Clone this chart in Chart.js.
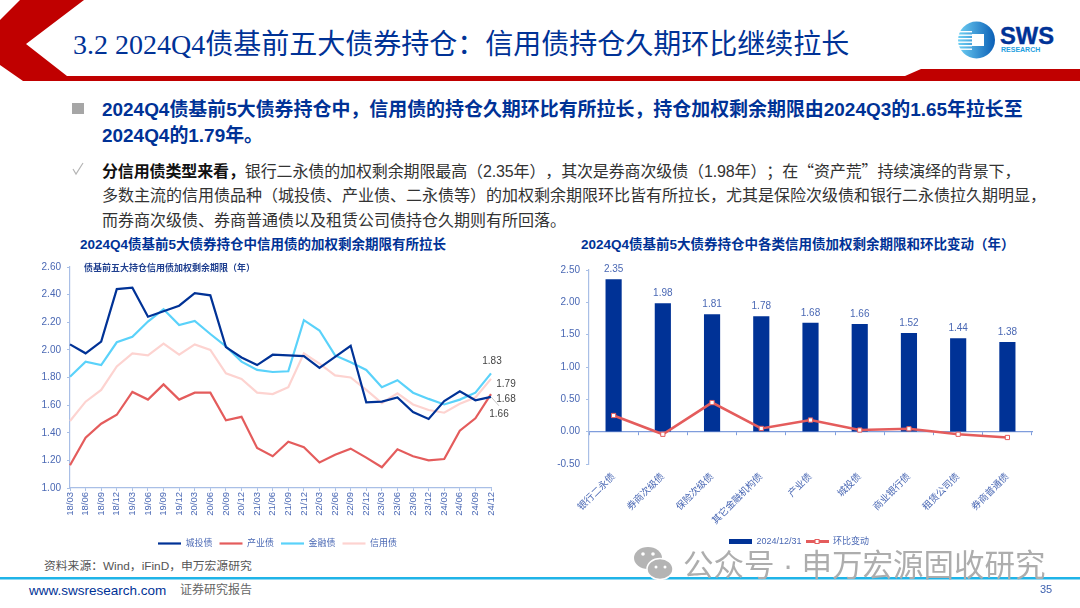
<!DOCTYPE html>
<html lang="zh-CN">
<head>
<meta charset="utf-8">
<title>3.2 2024Q4债基前五大债券持仓</title>
<script src="https://cdn.jsdelivr.net/npm/chart.js@4"></script>
<style>
  html, body { margin: 0; padding: 0; background: #fff; }
  #page {
    position: relative; width: 1080px; height: 608px; overflow: hidden;
    font-family: "Liberation Sans", "Noto Sans CJK SC", sans-serif;
    text-spacing-trim: space-all;
  }
  #page > * { position: absolute; }
  .txt { white-space: nowrap; line-height: 1; }
  .cjk { font-family: "Noto Sans CJK SC", sans-serif; }
  #headline { left: 73px; top: 31px; font-size: 28px; color: #003296; font-family: "Liberation Serif", "Noto Sans CJK SC", serif; }
  .lead { left: 102px; font-size: 18.95px; font-weight: 700; color: #003296; }
  .body { left: 102px; font-size: 16px; color: #333; }
  .body b { color: #111; }
  .chart-title { top: 238px; font-size: 13.5px; font-weight: 700; color: #003296; }
  #left-note { left: 84px; top: 264px; font-size: 9px; font-weight: 700; color: #1f3f8f; }
  #source { left: 44px; top: 561px; font-size: 11.8px; color: #555; }
  #site { left: 29px; top: 584px; font-size: 13.5px; color: #003296; }
  #report { left: 180px; top: 584px; font-size: 12px; color: #666; }
  #pageno { left: 1040px; top: 584px; font-size: 11px; color: #3f62b0; }
  #mark { left: 683px; top: 550px; font-size: 30.5px; color: #adadad; }
  canvas { position: absolute; }
</style>
</head>
<body>
<div id="page">
  <!-- Header band, logo and wechat mark -->
  <svg width="1080" height="608" style="left:0;top:0">
    <defs>
      <linearGradient id="logoFill" x1="0" x2="1" y1="0" y2="0">
        <stop offset="0" stop-color="#6fd0f4"/>
        <stop offset="1" stop-color="#0a5fb6"/>
      </linearGradient>
    </defs>
    <polygon fill="#c00000" points="20,0 84,0 26,44 67,76 905,76 921,69 1080,69 1080,81 23,81 0,65 0,20"/>
    <rect x="0" y="577" width="1080" height="2.5" fill="#1fb4e8"/>
    <rect x="72" y="103" width="12" height="11" fill="#a6a6a6"/>
    <path d="M73 169 L76 174 L83 163" fill="none" stroke="#b5b5b5" stroke-width="1.2"/>
    <ellipse cx="976.5" cy="40" rx="18.5" ry="18.5" fill="url(#logoFill)"/>
    <g fill="#ffffff">
      <rect x="958" y="31" width="14" height="1.4"/>
      <rect x="957" y="34.5" width="15" height="1.4"/>
      <rect x="957" y="38" width="15" height="1.4"/>
      <rect x="957" y="41.5" width="15" height="1.4"/>
      <rect x="957" y="45" width="15" height="1.4"/>
      <rect x="958" y="48.5" width="14" height="1.4"/>
      <rect x="972" y="34" width="12" height="12"/>
    </g>
    <ellipse cx="648" cy="558" rx="14" ry="11" fill="#b4b4b4"/>
    <ellipse cx="660" cy="569" rx="13" ry="10.5" fill="#b4b4b4" stroke="#fff" stroke-width="1.5"/>
    <circle cx="643" cy="554" r="1.8" fill="#fff"/>
    <circle cx="653" cy="554" r="1.8" fill="#fff"/>
    <circle cx="656" cy="567" r="1.5" fill="#fff"/>
    <circle cx="665" cy="567" r="1.5" fill="#fff"/>
  </svg>
  <div class="txt" style="left:1000px;top:24.5px;font-size:23.7px;font-weight:700;color:#003296;-webkit-text-stroke:.4px #003296">SWS</div>
  <div class="txt" style="left:1001px;top:46px;font-size:7px;font-weight:700;color:#1e9fe0">RESEARCH</div>

  <div id="headline" class="txt">3.2 2024Q4债基前五大债券持仓：信用债持仓久期环比继续拉长</div>

  <div class="txt lead" style="top:101px">2024Q4债基前5大债券持仓中，信用债的持仓久期环比有所拉长，持仓加权剩余期限由2024Q3的1.65年拉长至</div>
  <div class="txt lead" style="top:127px">2024Q4的1.79年。</div>
  <div class="txt body" style="top:162px;letter-spacing:-.13px"><b>分信用债类型来看，</b>银行二永债的加权剩余期限最高（2.35年），其次是券商次级债（1.98年）；在<span class="cjk">“</span>资产荒<span class="cjk">”</span>持续演绎的背景下，</div>
  <div class="txt body" style="top:188px">多数主流的信用债品种（城投债、产业债、二永债等）的加权剩余期限环比皆有所拉长，尤其是保险次级债和银行二永债拉久期明显，</div>
  <div class="txt body" style="top:213px">而券商次级债、券商普通债以及租赁公司债持仓久期则有所回落。</div>

  <div class="txt chart-title" style="left:80px">2024Q4债基前5大债券持仓中信用债的加权剩余期限有所拉长</div>
  <div class="txt chart-title" style="left:581px">2024Q4债基前5大债券持仓中各类信用债加权剩余期限和环比变动（年）</div>

  <canvas id="durationChart" style="left:30px;top:255px" width="496" height="303"></canvas>
  <canvas id="changeChart" style="left:550px;top:255px" width="500" height="301"></canvas>

  <div id="left-note" class="txt">债基前五大持仓信用债加权剩余期限（年）</div>

  <div id="mark" class="txt">公众号 · 申万宏源固收研究</div>
  <div id="source" class="txt">资料来源：Wind，iFinD，申万宏源研究</div>
  <div id="site" class="txt">www.swsresearch.com</div>
  <div id="report" class="txt">证券研究报告</div>
  <div id="pageno" class="txt">35</div>
</div>

<script>
// ======================================
// Data
// ======================================

const quarters = [
  "18/03", "18/06", "18/09", "18/12", "19/03", "19/06", "19/09",
  "19/12", "20/03", "20/06", "20/09", "20/12", "21/03", "21/06",
  "21/09", "21/12", "22/03", "22/06", "22/09", "22/12", "23/03",
  "23/06", "23/09", "23/12", "24/03", "24/06", "24/09", "24/12"
];

const chengtou = [
  2.04, 1.975, 2.06, 2.44, 2.45, 2.24, 2.28,
  2.32, 2.41, 2.395, 2.02, 1.945, 1.89, 1.965,
  1.96, 1.955, 1.87, 1.95, 2.03, 1.62, 1.625,
  1.655, 1.55, 1.5, 1.63, 1.7, 1.635, 1.66
];

const chanye = [
  1.165, 1.365, 1.465, 1.53, 1.695, 1.64, 1.75,
  1.64, 1.69, 1.69, 1.49, 1.515, 1.29, 1.23,
  1.335, 1.295, 1.185, 1.24, 1.285, 1.22, 1.15,
  1.28, 1.23, 1.2, 1.21, 1.415, 1.505, 1.68
];

const jinrong = [
  1.805, 1.915, 1.89, 2.055, 2.095, 2.205, 2.295,
  2.18, 2.21, 2.115, 2.025, 1.915, 1.855, 1.84,
  1.845, 2.215, 2.14, 1.96, 1.91, 1.855, 1.73,
  1.78, 1.69, 1.645, 1.605, 1.64, 1.69, 1.83
];

const xinyong = [
  1.485, 1.625, 1.71, 1.88, 1.975, 1.96, 2.045,
  1.965, 2.04, 2.0, 1.83, 1.79, 1.69, 1.68,
  1.73, 1.975, 1.9, 1.815, 1.8, 1.71, 1.615,
  1.685, 1.605, 1.565, 1.545, 1.61, 1.655, 1.79
];

const bondTypes = [
  "银行二永债", "券商次级债", "保险次级债", "其它金融机构债", "产业债",
  "城投债", "商业银行债", "租赁公司债", "券商普通债"
];

const remainingTerm = [2.35, 1.98, 1.81, 1.78, 1.68, 1.66, 1.52, 1.44, 1.38];
const termChange = [0.25, -0.04, 0.45, 0.05, 0.18, 0.025, 0.045, -0.04, -0.09];


// ======================================
// Shared styles
// ======================================

const tickBlue = "#4a68b4";
const axisBlue = "#a9bfe6";
const fontFamily = '"Liberation Sans", "Noto Sans CJK SC", sans-serif';
const navy = "#003296";
const red = "#e45c5c";

// label offsets from the last point of each line, in dataset order
const endLabelOffsets = [[8, 17], [15, 5], [1, -12], [15, 5]];

function lineDataset(label, data, color) {
  return {
    label: label,
    data: data,
    borderColor: color,
    backgroundColor: color,
    borderWidth: 2.2,
    pointRadius: 0,
    tension: 0
  };
}

// small legend sample for the second chart
function legendKey(color, height, withMarker) {
  const key = document.createElement("canvas");
  key.width = 23;
  key.height = 9;
  const ctx = key.getContext("2d");
  ctx.fillStyle = color;
  ctx.fillRect(0, (9 - height) / 2, 23, height);
  if (withMarker) {
    ctx.fillStyle = "#ffffff";
    ctx.strokeStyle = color;
    ctx.fillRect(9, 2, 5, 5);
    ctx.strokeRect(9.5, 2.5, 4, 4);
  }
  return key;
}


// ======================================
// Small inline plugins
// ======================================

const endLabels = {
  id: "endLabels",
  afterDatasetsDraw(chart) {
    const ctx = chart.ctx;
    ctx.save();
    ctx.font = "10px " + fontFamily;
    ctx.fillStyle = "#444444";
    ctx.textAlign = "center";
    ctx.textBaseline = "middle";
    chart.data.datasets.forEach((dataset, i) => {
      const point = chart.getDatasetMeta(i).data[dataset.data.length - 1];
      const offset = endLabelOffsets[i];
      ctx.fillText(dataset.data[dataset.data.length - 1].toFixed(2), point.x + offset[0], point.y + offset[1]);
      if (i === 0) {
        // leader line of the 城投债 label
        ctx.strokeStyle = "#b8b8b8";
        ctx.lineWidth = 0.8;
        ctx.beginPath();
        ctx.moveTo(point.x, point.y);
        ctx.lineTo(point.x + 8, point.y + 9);
        ctx.stroke();
      }
    });
    ctx.restore();
  }
};

const barLabels = {
  id: "barLabels",
  afterDatasetsDraw(chart) {
    const ctx = chart.ctx;
    ctx.save();
    ctx.font = "10px " + fontFamily;
    ctx.fillStyle = tickBlue;
    ctx.textAlign = "center";
    ctx.textBaseline = "middle";
    chart.getDatasetMeta(0).data.forEach((bar, i) => {
      ctx.fillText(remainingTerm[i].toFixed(2), bar.x, bar.y - 10);
    });
    ctx.restore();
  }
};

// the layout centres the legend inside the padding, the reference has it further right
function legendShift(px) {
  return {
    id: "legendShift",
    afterLayout(chart) {
      chart.legend.left += px;
      chart.legend.right += px;
    }
  };
}


// ======================================
// Left chart: line chart
// ======================================

new Chart(document.getElementById("durationChart"), {
  type: "line",
  data: {
    labels: quarters,
    datasets: [
      lineDataset("城投债", chengtou, navy),
      lineDataset("产业债", chanye, red),
      lineDataset("金融债", jinrong, "#5ad2fa"),
      lineDataset("信用债", xinyong, "#fdd3d0")
    ]
  },
  plugins: [endLabels, legendShift(17)],
  options: {
    responsive: false,
    animation: false,
    layout: { padding: { top: 9.5, right: 35 } },
    plugins: {
      tooltip: { enabled: false },
      legend: {
        position: "bottom",
        labels: {
          usePointStyle: true,
          pointStyle: "line",
          pointStyleWidth: 23,
          boxHeight: 9,
          padding: 7,
          color: tickBlue,
          font: { size: 9, family: fontFamily }
        }
      }
    },
    scales: {
      x: {
        offset: false,
        border: { color: axisBlue, width: 1.2 },
        grid: { drawOnChartArea: false, color: axisBlue, tickLength: 3 },
        ticks: {
          autoSkip: false,
          minRotation: 90,
          maxRotation: 90,
          padding: 1,
          color: tickBlue,
          font: { size: 9.5, family: fontFamily }
        },
        afterFit(scale) { scale.height = 44; }
      },
      y: {
        min: 1,
        max: 2.6,
        border: { color: axisBlue, width: 1.2 },
        grid: { drawOnChartArea: false, color: axisBlue, tickLength: 3 },
        ticks: {
          stepSize: 0.2,
          padding: 6,
          color: tickBlue,
          font: { size: 10, family: fontFamily },
          callback: (value) => value.toFixed(2)
        },
        afterFit(scale) { scale.width = 40; }
      }
    }
  }
});


// ======================================
// Right chart: bars with change line
// ======================================

new Chart(document.getElementById("changeChart"), {
  type: "bar",
  data: {
    labels: bondTypes,
    datasets: [
      {
        label: "2024/12/31",
        data: remainingTerm,
        backgroundColor: navy,
        barThickness: 15.5,
        order: 2
      },
      {
        type: "line",
        label: "环比变动",
        data: termChange,
        borderColor: red,
        backgroundColor: red,
        borderWidth: 2.6,
        pointStyle: "rect",
        pointRadius: 3,
        pointBackgroundColor: "#ffffff",
        pointBorderColor: red,
        pointBorderWidth: 1,
        tension: 0,
        order: 1
      }
    ]
  },
  plugins: [barLabels, legendShift(8)],
  options: {
    responsive: false,
    animation: false,
    layout: { padding: { top: 15, right: 18 } },
    plugins: {
      tooltip: { enabled: false },
      legend: {
        position: "bottom",
        labels: {
          usePointStyle: true,
          pointStyleWidth: 23,
          boxHeight: 9,
          padding: 4,
          color: tickBlue,
          font: { size: 9, family: fontFamily },
          generateLabels() {
            return [
              { text: "2024/12/31", pointStyle: legendKey(navy, 5, false), datasetIndex: 0, fontColor: tickBlue },
              { text: "环比变动", pointStyle: legendKey(red, 3, true), datasetIndex: 1, fontColor: tickBlue }
            ];
          }
        }
      }
    },
    scales: {
      x: {
        border: { display: false },
        grid: { display: false },
        ticks: {
          autoSkip: false,
          minRotation: 45,
          maxRotation: 45,
          padding: -1,
          color: tickBlue,
          font: { size: 9.6, family: fontFamily }
        },
        afterFit(scale) { scale.height = 69; }
      },
      zero: {
        type: "category",
        labels: bondTypes,
        axis: "x",
        position: { y: 0 },
        offset: true,
        border: { color: "#7f9ddc", width: 1.2 },
        grid: { offset: true, drawOnChartArea: false, color: "#7f9ddc", tickLength: 3 },
        ticks: { display: false }
      },
      y: {
        min: -0.5,
        max: 2.5,
        border: { color: axisBlue, width: 1.2 },
        grid: { drawOnChartArea: false, color: axisBlue, tickLength: 3 },
        ticks: {
          stepSize: 0.5,
          padding: 6,
          color: tickBlue,
          font: { size: 10, family: fontFamily },
          callback: (value) => value.toFixed(2)
        },
        afterFit(scale) { scale.width = 39; }
      }
    }
  }
});
</script>
</body>
</html>
